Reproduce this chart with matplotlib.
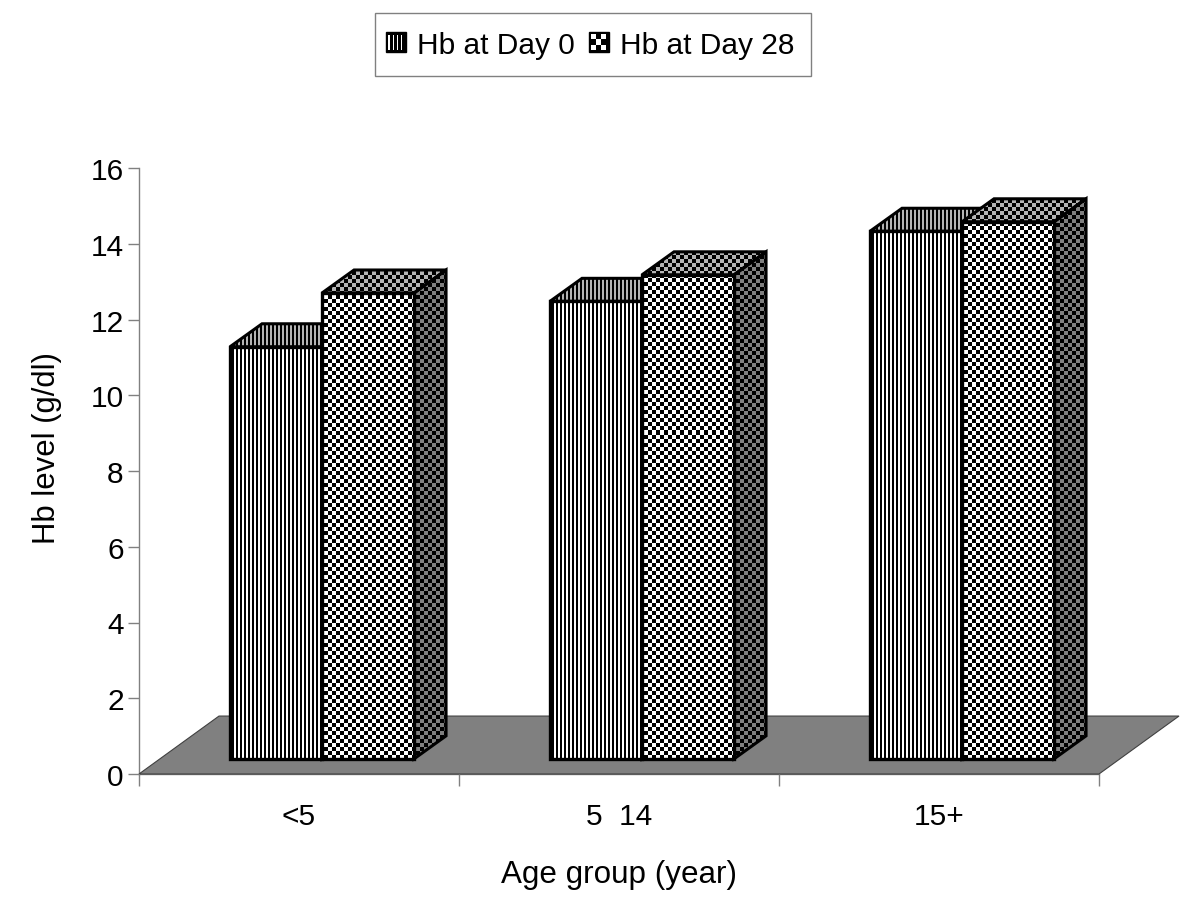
import numpy as np
import matplotlib
matplotlib.use("Agg")
import matplotlib.pyplot as plt
from matplotlib.patches import Polygon, Rectangle
from matplotlib.legend_handler import HandlerBase

categories = ["<5", "5  14", "15+"]
series_names = ["Hb at Day 0", "Hb at Day 28"]
day0 = [10.88, 12.08, 13.93]
day28 = [12.3, 12.78, 14.18]
y_ticks = [0, 2, 4, 6, 8, 10, 12, 14, 16]

W, H = 1200, 920
plt.rcParams["font.family"] = ["Liberation Sans", "DejaVu Sans"]
fig = plt.figure(figsize=(W / 100, H / 100), dpi=100, facecolor="white")
ax = fig.add_axes([139 / W, 1 - 775 / H, 960 / W, 606 / H])
ax.set_xlim(0, 3)
ax.set_ylim(0, 16)

# 3-D projection constants in data units
FLOOR_DX, FLOOR_DY = 0.25, 1.53
BASE_DX, BASE_DY = 0.072, 0.4
DEPTH_DX, DEPTH_DY = 0.1, 0.607
BAR_W = 0.2875
GREY = "#808080"
TOP_BG = "#B4B4B4"
SIDE_BG = "#808080"


def texture(kind, bg):
    yy, xx = np.mgrid[0:H, 0:W]
    if kind == "stripe":
        mask = (xx % 4) < 2
    else:
        mask = ((xx // 4) + (yy // 4)) % 2 == 0
    img = np.ones((H, W, 3))
    img[:] = np.array(matplotlib.colors.to_rgb(bg))
    img[mask] = 0
    return img


extent = (-139 / 320, (W - 139) / 320, (775 - H) / 37.875, 775 / 37.875)
TEX = {(k, b): texture(k, b) for k in ("stripe", "check") for b in ("white", TOP_BG, SIDE_BG)}


def fill(patch, kind, bg, z):
    im = ax.imshow(TEX[(kind, bg)], extent=extent, origin="upper", aspect="auto",
                   interpolation="nearest", zorder=z)
    im.set_clip_path(patch)


# floor
ax.add_patch(Polygon([(0, 0), (3, 0), (3 + FLOOR_DX, FLOOR_DY), (FLOOR_DX, FLOOR_DY)],
                     closed=True, fc=GREY, ec="#404040", lw=0.8, clip_on=False, zorder=1))

z = 2
for i in range(len(categories)):
    for j, (vals, kind) in enumerate(((day0, "stripe"), (day28, "check"))):
        v = vals[i]
        x0 = i + 0.5 - BAR_W + BASE_DX + j * BAR_W
        x1 = x0 + BAR_W
        y0 = BASE_DY
        y1 = BASE_DY + v
        top = Polygon([(x0, y1), (x1, y1), (x1 + DEPTH_DX, y1 + DEPTH_DY), (x0 + DEPTH_DX, y1 + DEPTH_DY)],
                      closed=True, fc="none", ec="black", lw=2.2, joinstyle="miter", zorder=z + 1, clip_on=False)
        side = Polygon([(x1, y0), (x1 + DEPTH_DX, y0 + DEPTH_DY), (x1 + DEPTH_DX, y1 + DEPTH_DY), (x1, y1)],
                       closed=True, fc="none", ec="black", lw=2.2, joinstyle="miter", zorder=z + 1, clip_on=False)
        ax.add_patch(top)
        ax.add_patch(side)
        fill(top, kind, TOP_BG, z)
        fill(side, kind, SIDE_BG, z)
        bar = ax.bar(x0, v, BAR_W, bottom=y0, align="edge", fc="none", ec="black", lw=2.4,
                     zorder=z + 3, clip_on=False)[0]
        fill(bar, kind, "white", z + 2)
        z += 4

ax.set_xlim(0, 3)
ax.set_ylim(0, 16)
ax.set_aspect("auto")
ax.patch.set_alpha(0)
for s in ("top", "right"):
    ax.spines[s].set_visible(False)
for s in ("left", "bottom"):
    ax.spines[s].set_color(GREY)
    ax.spines[s].set_linewidth(1.0)
    ax.spines[s].set_zorder(0.5)

ax.set_yticks(y_ticks)
ax.tick_params(axis="y", length=8, width=1.0, color=GREY, labelsize=21.5, pad=3)
ax.set_xticks([0, 1, 2, 3])
ax.set_xticklabels([])
ax.tick_params(axis="x", length=8.5, width=1.0, color=GREY)
ax.set_xticks([0.5, 1.5, 2.5], minor=True)
ax.set_xticklabels(categories, minor=True)
ax.tick_params(axis="x", which="minor", length=0, labelsize=21.5, pad=20)

ax.set_xlabel("Age group (year)", fontsize=22.6)
ax.set_ylabel("Hb level (g/dl)", fontsize=22.4)
ax.xaxis.set_label_coords(0.5, -0.1404)
ax.yaxis.set_label_coords(-0.08, 0.54)


class StripeHandle:
    pass


class CheckHandle:
    pass


class SwatchHandler(HandlerBase):
    def __init__(self, kind):
        super().__init__()
        self.kind = kind

    def create_artists(self, legend, orig, xd, yd, width, height, fontsize, trans):
        s = 14.4
        ox, oy = xd * -1 + (width - s) / 2 - 2.5, -yd + (height - s) / 2
        arts = [Rectangle((ox, oy), s, s, fc="black", ec="black", lw=1.0, transform=trans)]
        if self.kind == "stripe":
            for k in range(4):
                arts.append(Rectangle((ox + 2.0 + k * 2.9, oy + 1.8), 1.1, s - 3.6, fc="white", ec="none", transform=trans))
        else:
            n = 3
            c = (s - 3.0) / n
            for a in range(n):
                for b in range(n):
                    if (a + b) % 2 == 0:
                        arts.append(Rectangle((ox + 1.5 + a * c, oy + 1.5 + b * c), c, c, fc="white", ec="none", transform=trans))
        return arts


h0, h1 = StripeHandle(), CheckHandle()
leg = fig.legend([h0, h1], series_names,
                 handler_map={StripeHandle: SwatchHandler("stripe"), CheckHandle: SwatchHandler("check")},
                 loc="center", bbox_to_anchor=(593 / W, 1 - 45.5 / H), ncols=2, fontsize=21.5, frameon=True,
                 fancybox=False, edgecolor=GREY, framealpha=1, borderpad=0.57, handlelength=0.48,
                 handletextpad=0.35, columnspacing=0.68)
leg.get_frame().set_linewidth(1.0)

fig.savefig("out.png", dpi=100)
